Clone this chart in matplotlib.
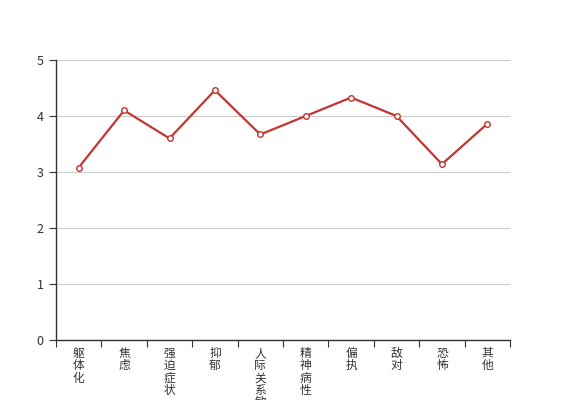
import matplotlib
matplotlib.use("Agg")
import matplotlib.pyplot as plt

plt.rcParams['font.family'] = ['Noto Sans CJK SC', 'DejaVu Sans']

# SCL-90 factor scores
categories = ["躯体化", "焦虑", "强迫症状", "抑郁", "人际关系敏感",
              "精神病性", "偏执", "敌对", "恐怖", "其他"]
scores = [3.08, 4.10, 3.60, 4.46, 3.67, 4.00, 4.33, 4.00, 3.14, 3.86]
y_ticks = [0, 1, 2, 3, 4, 5]

fig = plt.figure(figsize=(5.67, 4.0), dpi=100)
ax = fig.add_axes([56 / 567, 60 / 400, 454 / 567, 280 / 400])

xs = [i + 0.5 for i in range(len(categories))]
ax.plot(xs, scores, color='#c23531', linewidth=1.6, marker='o',
        markersize=4, markerfacecolor='white', markeredgecolor='#c23531',
        markeredgewidth=1.0, zorder=3)

ax.set_xlim(0, len(categories))
ax.set_ylim(0, 5)
ax.set_yticks(y_ticks)
ax.set_yticklabels([str(v) for v in y_ticks])
ax.grid(axis='y', color='#cccccc', linewidth=0.8)
ax.set_axisbelow(True)

# ticks on band edges, labels at band centres
ax.set_xticks(range(len(categories) + 1))
ax.set_xticklabels([])
ax.set_xticks(xs, minor=True)
ax.set_xticklabels(['\n'.join(c) for c in categories], minor=True,
                   linespacing=0.93, va='top')
ax.tick_params(axis='x', which='minor', length=0, pad=5, labelsize=8.5,
               labelcolor='#333333')
ax.tick_params(axis='x', which='major', length=5, color='#333333')
ax.tick_params(axis='y', length=5, color='#333333', labelsize=9,
               labelcolor='#333333', pad=4)

for side in ['top', 'right']:
    ax.spines[side].set_visible(False)
for side in ['left', 'bottom']:
    ax.spines[side].set_color('#333333')
    ax.spines[side].set_linewidth(1.0)

fig.savefig('out.png', dpi=100)
